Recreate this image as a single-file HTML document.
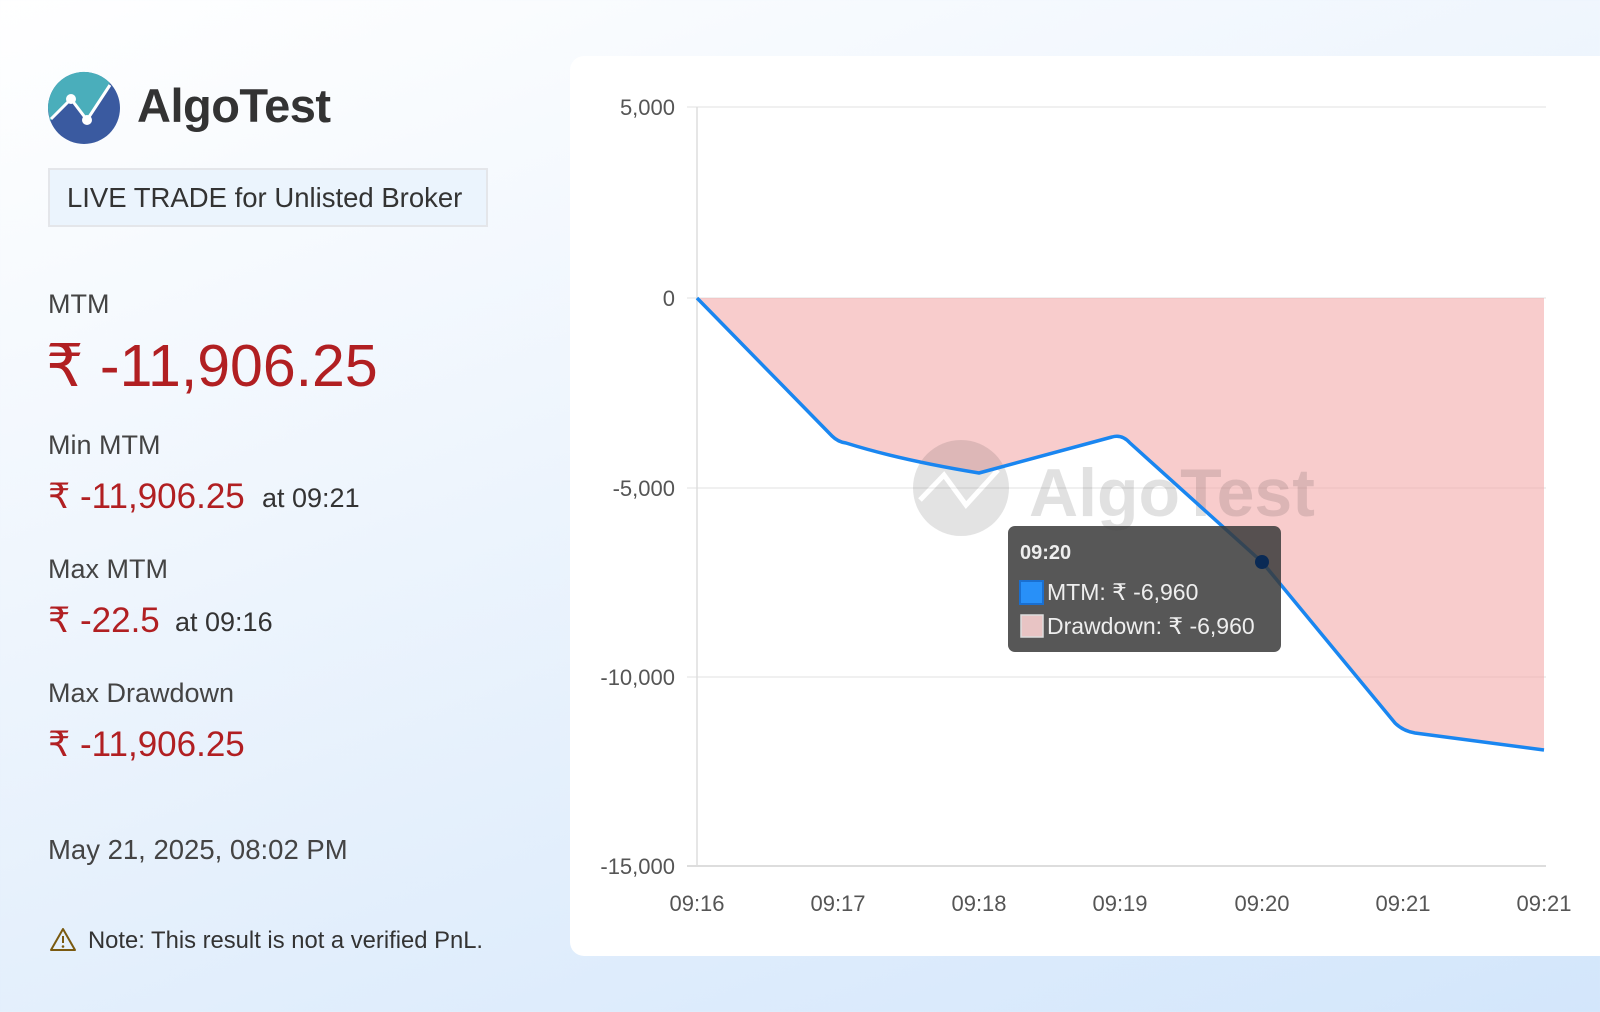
<!DOCTYPE html>
<html><head><meta charset="utf-8"><style>
html,body{margin:0;padding:0}
body{width:1600px;height:1012px;overflow:hidden;position:relative;font-family:"Liberation Sans",Arial,sans-serif;background:linear-gradient(160deg,#ffffff 0%,#eef5fd 40%,#d3e6fb 100%);}
.t{position:absolute;white-space:nowrap}
.red{color:#b11f22}
</style></head><body>
<svg class="t" style="left:47px;top:71px" width="76" height="76" viewBox="0 0 76 76">
<circle cx="37" cy="37" r="36" fill="#3a5aa0"/>
<path d="M1,37 A36,36 0 0 1 63,12 L40,48 L24,28 L3,50 Z" fill="#4aaebb"/>
<polyline points="4,48 24,28 40,49 63,14" fill="none" stroke="#fff" stroke-width="3"/>
<circle cx="24" cy="28" r="5" fill="#fff"/><circle cx="40" cy="49" r="5" fill="#fff"/>
</svg>
<div class="t" style="left:137px;top:78px;font-size:47px;font-weight:bold;color:#333;letter-spacing:-0.5px">AlgoTest</div>
<div class="t" style="left:48px;top:168px;width:440px;height:59px;border:2px solid #e4e6ea;background:#ebf4fd;box-sizing:border-box"></div>
<div class="t" style="left:67px;top:182px;font-size:27.5px;color:#333">LIVE TRADE for Unlisted Broker</div>
<div class="t" style="left:48px;top:289px;font-size:27px;color:#444">MTM</div>
<div class="t red" style="left:46px;top:331px;font-size:59px">₹ -11,906.25</div>
<div class="t" style="left:48px;top:430px;font-size:27px;color:#444">Min MTM</div>
<div class="t red" style="left:48px;top:477px;font-size:35px">₹ -11,906.25</div>
<div class="t" style="left:262px;top:483px;font-size:27px;color:#333">at 09:21</div>
<div class="t" style="left:48px;top:554px;font-size:27px;color:#444">Max MTM</div>
<div class="t red" style="left:48px;top:601px;font-size:35px">₹ -22.5</div>
<div class="t" style="left:175px;top:607px;font-size:27px;color:#333">at 09:16</div>
<div class="t" style="left:48px;top:678px;font-size:27px;color:#444">Max Drawdown</div>
<div class="t red" style="left:48px;top:725px;font-size:35px">₹ -11,906.25</div>
<div class="t" style="left:48px;top:834px;font-size:27.5px;color:#444">May 21, 2025, 08:02 PM</div>
<svg class="t" style="left:49px;top:927px" width="28" height="26" viewBox="0 0 28 26"><path d="M14,2 L26,23 L2,23 Z" fill="none" stroke="#7a5a10" stroke-width="2" stroke-linejoin="round"/><line x1="14" y1="9" x2="14" y2="16" stroke="#7a5a10" stroke-width="2"/><circle cx="14" cy="19.5" r="1.3" fill="#7a5a10"/></svg>
<div class="t" style="left:88px;top:927px;font-size:23.8px;color:#333">Note: This result is not a verified PnL.</div>

<div class="t" style="left:570px;top:56px;width:1050px;height:900px;background:#fff;border-radius:14px"></div>
<svg class="t" style="left:0;top:0" width="1600" height="1012">
<g stroke="#ececec" stroke-width="1.5">
<line x1="687" y1="107" x2="1546" y2="107"/><line x1="687" y1="298" x2="1546" y2="298"/>
<line x1="687" y1="488" x2="1546" y2="488"/><line x1="687" y1="677" x2="1546" y2="677"/>
</g>
<line x1="697" y1="107" x2="697" y2="866" stroke="#ddd" stroke-width="1.5"/>
<line x1="687" y1="866" x2="1546" y2="866" stroke="#ddd" stroke-width="2"/>
<g font-size="22" fill="#555" text-anchor="end" font-family="Liberation Sans,Arial,sans-serif">
<text x="675" y="115">5,000</text><text x="675" y="306">0</text><text x="675" y="496">-5,000</text><text x="675" y="685">-10,000</text><text x="675" y="874">-15,000</text>
</g>
<g font-size="22" fill="#555" text-anchor="middle" font-family="Liberation Sans,Arial,sans-serif">
<text x="697" y="911">09:16</text><text x="838" y="911">09:17</text><text x="979" y="911">09:18</text><text x="1120" y="911">09:19</text><text x="1262" y="911">09:20</text><text x="1403" y="911">09:21</text><text x="1544" y="911">09:21</text>
</g>
<path d="M697,298 L838,441 Q900,460 979,473 L1115,437 Q1122,435 1128,443 L1262,562 L1397,725 Q1403,731 1415,733 L1544,750 L1544,298 Z" fill="#f2a3a3" fill-opacity="0.55"/>
<g opacity="0.13">
<circle cx="961" cy="488" r="48" fill="#333"/>
<polyline points="920,500 944,475 966,505 998,470" fill="none" stroke="#fff" stroke-width="5"/>
<text x="1029" y="516" font-size="68" font-weight="bold" fill="#222" font-family="Liberation Sans,Arial,sans-serif">AlgoTest</text>
</g>
<path d="M697,298 L832,436 Q838,442 846,443 Q900,460 979,473 L1112,437 Q1122,434 1130,443 L1262,562 L1395,723 Q1403,731 1415,733 L1544,750" fill="none" stroke="#1a86f0" stroke-width="3.5" stroke-linejoin="round"/>
<rect x="1008" y="526" width="273" height="126" rx="7" fill="#3a3a3a" fill-opacity="0.85"/>
<circle cx="1262" cy="562" r="7" fill="#0a2a55"/>
<text x="1020" y="559" font-size="20" font-weight="bold" fill="#eee" font-family="Liberation Sans,Arial,sans-serif">09:20</text>
<rect x="1020" y="581" width="23" height="23" fill="#2890f8" stroke="#1a6fd0" stroke-width="2"/>
<text x="1047" y="600" font-size="23" fill="#eee" font-family="Liberation Sans,Arial,sans-serif">MTM: ₹ -6,960</text>
<rect x="1021" y="615" width="22" height="22" fill="#e8c4c4" stroke="#ddd" stroke-width="1.5"/>
<text x="1047" y="634" font-size="23" fill="#eee" font-family="Liberation Sans,Arial,sans-serif">Drawdown: ₹ -6,960</text>
</svg>
</body></html>
